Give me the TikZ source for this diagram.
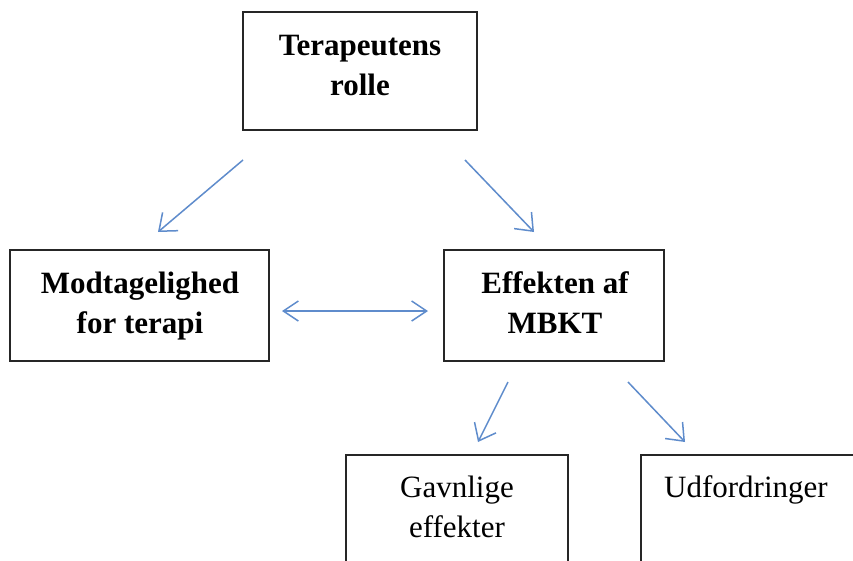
\documentclass[tikz,border=0pt]{standalone}
\usepackage{fontspec}
\setmainfont{Liberation Serif}
\usetikzlibrary{arrows.meta}
\definecolor{arrowblue}{RGB}{95,140,204}
\tikzset{
  boxnode/.style={draw=black!85, line width=1.3pt, rectangle, inner sep=0pt},
  boldtxt/.style={font=\fontsize{31}{40}\selectfont\bfseries, align=center, inner sep=0pt},
  plaintxt/.style={font=\fontsize{31}{40}\selectfont, align=center, inner sep=0pt},
  conn/.style={draw=arrowblue, line width=1.5pt, -{Straight Barb[length=15pt,width=24pt]}},
  dconn/.style={draw=arrowblue, line width=1.5pt, {Straight Barb[length=15pt,width=20pt]}-{Straight Barb[length=15pt,width=20pt]}}
}
\begin{document}
\begin{tikzpicture}[x=1pt,y=-1pt]
\useasboundingbox (0,0) rectangle (853,560);
\clip (0,0) rectangle (853,560);
\fill[white] (0,0) rectangle (853,560);
% boxes
\node[boxnode, minimum width=234pt, minimum height=118pt] (top) at (360,71) {};
\node[boxnode, minimum width=259pt, minimum height=111pt] (left) at (139.5,305.5) {};
\node[boxnode, minimum width=220pt, minimum height=111pt] (mid) at (554,305.5) {};
\node[boxnode, minimum width=222pt, minimum height=160pt] (bl) at (457,535) {};
\node[boxnode, minimum width=260pt, minimum height=160pt] (br) at (771,535) {};
% texts (anchor base = baseline of last line)
\node[boldtxt, anchor=base] (toptxt) at (360,95) {Terapeutens\\rolle};
\node[boldtxt, anchor=base] (lefttxt) at (140,333) {Modtagelighed\\for terapi};
\node[boldtxt, anchor=base] (midtxt) at (555,333) {Effekten af\\MBKT};
\node[plaintxt, anchor=base] (bltxt) at (457,537) {Gavnlige\\effekter};
\node[plaintxt, anchor=base west] (brtxt) at (664,497) {Udfordringer};
% arrow coordinates
\coordinate (a1s) at (243,160);
\coordinate (a1e) at (158,232);
\coordinate (a2s) at (465,160);
\coordinate (a2e) at (534,232);
\coordinate (a3s) at (282,311);
\coordinate (a3e) at (428,311);
\coordinate (a4s) at (508,382);
\coordinate (a4e) at (478,442);
\coordinate (a5s) at (628,382);
\coordinate (a5e) at (685,442);
\draw[conn] (a1s) -- (a1e);
\draw[conn] (a2s) -- (a2e);
\draw[dconn] (a3s) -- (a3e);
\draw[conn] (a4s) -- (a4e);
\draw[conn] (a5s) -- (a5e);
\end{tikzpicture}
\end{document}
